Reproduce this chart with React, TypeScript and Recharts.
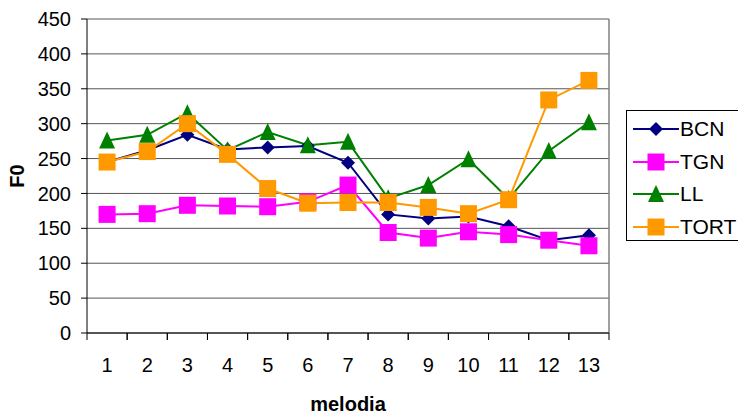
import { LineChart, Line, XAxis, YAxis, CartesianGrid, ReferenceLine, Label } from 'recharts';

const melodies = [1, 2, 3, 4, 5, 6, 7, 8, 9, 10, 11, 12, 13];
const bcn = [245, 262, 284, 263, 266, 268, 244, 170, 164, 167, 153, 133, 140];
const tgn = [170, 171, 183, 182, 181, 188, 212, 144, 136, 145, 141, 133, 125];
const ll = [276, 284, 315, 262, 288, 269, 274, 193, 212, 249, 192, 261, 302];
const tort = [245, 260, 300, 256, 207, 186, 187, 187, 180, 171, 191, 334, 362];
const yTicks = [0, 50, 100, 150, 200, 250, 300, 350, 400, 450];

const FONT = '"Liberation Sans", Arial, sans-serif';
const PLOT_W = 522;
const HALF = PLOT_W / melodies.length / 2;

const series = [
  { key: 'BCN', color: '#000080', shape: 'diamond' },
  { key: 'TGN', color: '#FF00FF', shape: 'square' },
  { key: 'LL', color: '#008000', shape: 'triangle' },
  { key: 'TORT', color: '#FF9900', shape: 'square' },
];

function marker(shape: string, cx: number, cy: number, color: string, key?: any) {
  if (shape === 'diamond') {
    return <path key={key} d={`M${cx},${cy - 7}L${cx + 7},${cy}L${cx},${cy + 7}L${cx - 7},${cy}Z`} fill={color} />;
  }
  if (shape === 'triangle') {
    return <path key={key} d={`M${cx},${cy - 9}L${cx + 8},${cy + 8}L${cx - 8},${cy + 8}Z`} fill={color} />;
  }
  return <rect key={key} x={cx - 8.5} y={cy - 8.5} width={17} height={17} fill={color} />;
}

function XTick(props: any) {
  const { x, y, payload } = props;
  return (
    <g>
      <line x1={x - HALF} x2={x - HALF} y1={y} y2={y + 7} stroke="#000" />
      <line x1={x + HALF} x2={x + HALF} y1={y} y2={y + 7} stroke="#000" />
      <text x={x} y={y + 39} textAnchor="middle" fontSize={20} fontFamily={FONT} fill="#000">
        {payload.value}
      </text>
    </g>
  );
}

export default function App() {
  const data = melodies.map((m, i) => ({ m, BCN: bcn[i], TGN: tgn[i], LL: ll[i], TORT: tort[i] }));

  return (
    <div style={{ position: 'absolute', left: 0, top: 0, width: 738, height: 415, background: '#fff', fontFamily: FONT }}>
      <LineChart width={738} height={415} data={data} margin={{ top: 19, right: 129, bottom: 0, left: 0 }}>
        <CartesianGrid vertical={false} stroke="#555" />
        <XAxis
          dataKey="m"
          type="number"
          domain={[0.5, 13.5]}
          ticks={melodies}
          height={82}
          tickLine={false}
          tickSize={0}
          tickMargin={0}
          tick={<XTick />}
          axisLine={{ stroke: '#000' }}
          interval={0}
        >
          <Label
            content={({ viewBox }: any) => (
              <text x={viewBox.x + viewBox.width / 2} y={viewBox.y + 78} textAnchor="middle" fontSize={20} fontWeight="bold" fontFamily={FONT}>
                melodia
              </text>
            )}
          />
        </XAxis>
        <YAxis
          domain={[0, 450]}
          ticks={yTicks}
          width={87}
          tickSize={6}
          tickMargin={10}
          tickLine={{ stroke: '#000' }}
          axisLine={{ stroke: '#000' }}
          tick={{ fill: '#000', fontSize: 20, fontFamily: FONT }}
          interval={0}
        >
          <Label
            content={({ viewBox }: any) => {
              const cx = 17;
              const cy = viewBox.y + viewBox.height / 2;
              return (
                <text x={cx} y={cy} transform={`rotate(-90 ${cx} ${cy})`} textAnchor="middle" dominantBaseline="central" fontSize={20} fontWeight="bold" fontFamily={FONT}>
                  F0
                </text>
              );
            }}
          />
        </YAxis>
        <ReferenceLine x={13.5} stroke="#808080" strokeWidth={1.5} />
        {series.map((s) => (
          <Line
            key={s.key}
            dataKey={s.key}
            stroke={s.color}
            strokeWidth={2}
            isAnimationActive={false}
            activeDot={false}
            dot={(p: any) => marker(s.shape, p.cx, p.cy, s.color, p.key)}
          />
        ))}
      </LineChart>
      <div
        style={{
          position: 'absolute',
          left: 626,
          top: 110,
          width: 120,
          height: 131,
          border: '1px solid #000',
          boxSizing: 'border-box',
        }}
      >
        {series.map((s, i) => (
          <div key={s.key} style={{ position: 'absolute', left: 6, top: 6 + i * 32.7, height: 24, display: 'flex', alignItems: 'center' }}>
            <svg width={47} height={24}>
              <line x1={0} x2={46} y1={12} y2={12} stroke={s.color} strokeWidth={2} />
              {marker(s.shape, 23, 12, s.color)}
            </svg>
            <span style={{ fontSize: 21, color: '#000', lineHeight: '24px', marginLeft: 0 }}>{s.key}</span>
          </div>
        ))}
      </div>
    </div>
  );
}
